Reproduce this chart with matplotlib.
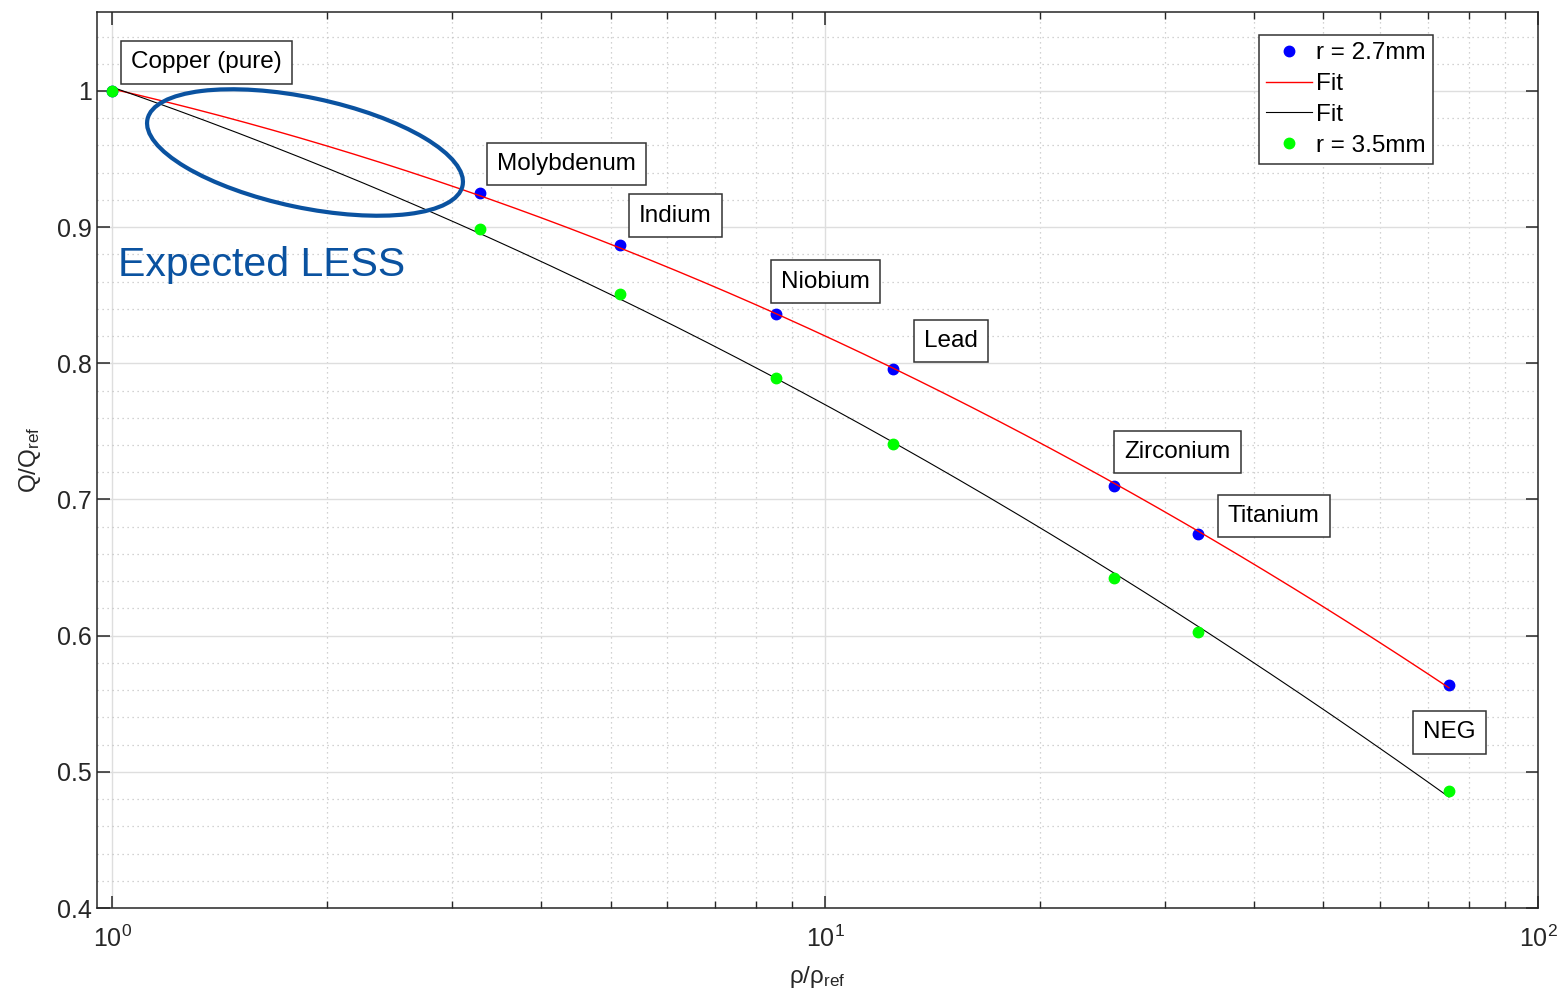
import numpy as np
import matplotlib
matplotlib.use("Agg")
import matplotlib.pyplot as plt
from matplotlib.patches import Ellipse
from matplotlib.ticker import MultipleLocator, FuncFormatter, LogLocator

plt.rcParams['font.family'] = ['Liberation Sans', 'DejaVu Sans']
plt.rcParams['mathtext.default'] = 'regular'

# data
materials = ['Copper (pure)', 'Molybdenum', 'Indium', 'Niobium', 'Lead',
             'Zirconium', 'Titanium', 'NEG']
rho_ratio = [1.0, 3.28, 5.15, 8.54, 12.46, 25.4, 33.3, 75.0]
q_r27 = [1.0, 0.925, 0.887, 0.836, 0.796, 0.710, 0.675, 0.564]
q_r35 = [1.0, 0.899, 0.851, 0.789, 0.741, 0.642, 0.603, 0.486]

# centres of the name boxes (data coords)
label_x = [1.355, 4.337, 6.17, 10.02, 15.03, 31.19, 42.6, 75.1]
label_y = [1.021, 0.9465, 0.9085, 0.860, 0.8165, 0.735, 0.688, 0.529]

W, H = 1561, 992
fig = plt.figure(figsize=(W / 100, H / 100), dpi=100)
ax = fig.add_axes([97 / W, 1 - 908 / H, (1538 - 97) / W, (908 - 12) / H])

x = np.array(rho_ratio)
lx = np.log10(x)
xs = np.logspace(0, np.log10(x.max()), 300)
fit27 = np.polyval(np.polyfit(lx, q_r27, 2), np.log10(xs))
fit35 = np.polyval(np.polyfit(lx, q_r35, 2), np.log10(xs))

ax.plot(x, q_r27, 'o', color='#0000ff', ms=7.5, label='r = 2.7mm', zorder=3)
ax.plot(xs, fit27, '-', color='#ff0000', lw=1.0, label='Fit', zorder=4)
ax.plot(xs, fit35, '-', color='#000000', lw=0.8, label='Fit', zorder=4)
ax.plot(x, q_r35, 'o', color='#00ff00', ms=7.5, label='r = 3.5mm', zorder=5)

for name, tx, ty in zip(materials, label_x, label_y):
    ax.text(tx, ty, name, fontsize=17.5, ha='center', va='center', color='black',
            bbox=dict(boxstyle='square,pad=0.42', fc='white', ec='#333333', lw=1.1),
            zorder=6)

ax.set_xscale('log')
ax.set_xlim(0.952, 100)
ax.set_ylim(0.4, 1.058)
ax.yaxis.set_major_locator(MultipleLocator(0.1))
ax.yaxis.set_minor_locator(MultipleLocator(0.02))
ax.yaxis.set_major_formatter(FuncFormatter(lambda v, p: '%g' % round(v, 2)))
ax.xaxis.set_minor_locator(LogLocator(base=10, subs=np.arange(2, 10)))

ax.grid(True, which='major', color='#dedede', lw=1.0, ls='-')
ax.grid(True, which='minor', color='#c4c4c4', lw=0.9, ls=(0, (1, 3)))
ax.set_axisbelow(True)

ax.tick_params(which='both', direction='in', top=True, right=True,
               colors='#262626', labelsize=18)
ax.tick_params(which='major', length=9, width=1.1)
ax.tick_params(axis='x', which='minor', length=5, width=1.0)
ax.tick_params(axis='y', which='minor', length=0)
ax.tick_params(axis='x', pad=13)
for s in ax.spines.values():
    s.set_color('#262626')
    s.set_linewidth(1.1)

ax.set_xlabel(r'ρ/ρ$_{ref}$', fontsize=17.5, color='#262626', labelpad=8)
ax.set_ylabel(r'Q/Q$_{ref}$', fontsize=17.5, color='#262626', labelpad=10)

leg = ax.legend(loc='upper right', bbox_to_anchor=((1433 - 97) / 1441, 1 - (35 - 12) / 896),
                borderaxespad=0, fontsize=17.5, fancybox=False, framealpha=1,
                edgecolor='#333333', handlelength=1.9, handletextpad=0.15,
                labelspacing=0.36, borderpad=0.3)
leg.get_frame().set_linewidth(1.1)

# annotation drawn on top of the figure (inch coords keep it round)
ell = Ellipse((3.05, (H - 152.5) / 100), 3.22, 1.10, angle=-11.9,
              transform=fig.dpi_scale_trans, fill=False, ec='#0a52a0', lw=3.0,
              zorder=10)
fig.patches.append(ell)
fig.text(118 / W, 1 - 276 / H, 'Expected LESS', fontsize=29.5, color='#0a52a0',
         ha='left', va='baseline')

fig.savefig('out.png', dpi=100)
